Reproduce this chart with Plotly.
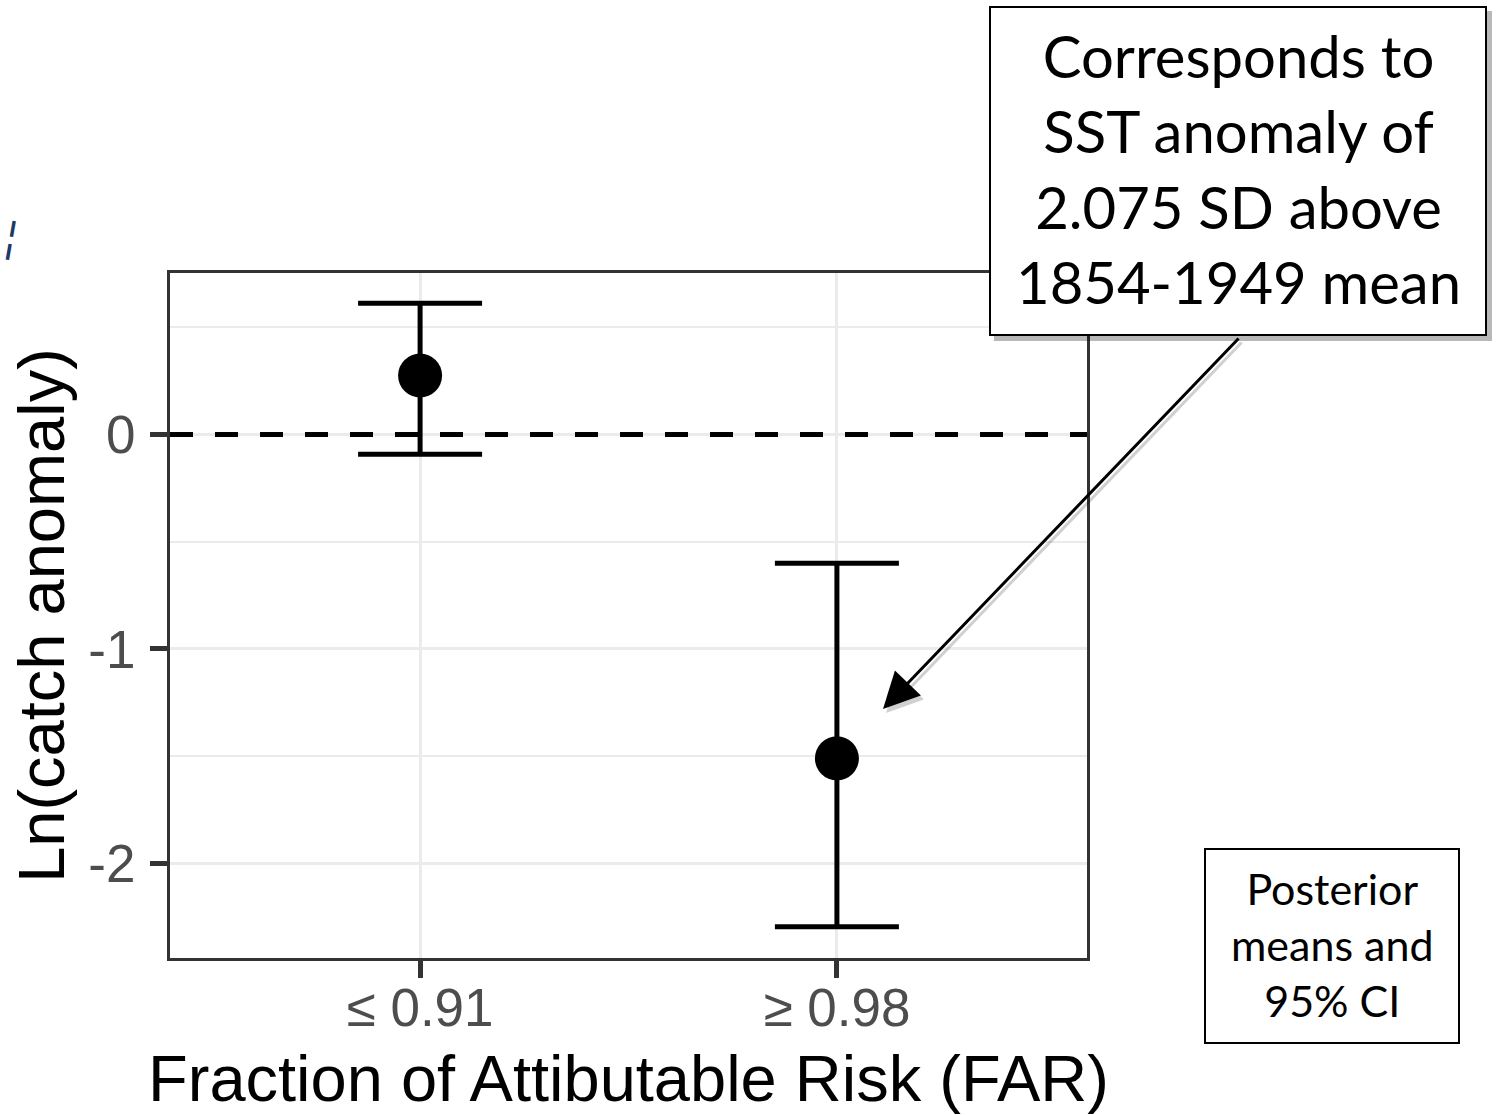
import plotly.graph_objects as go

# ---- data ----
categories = ["\u2264 0.91", "\u2265 0.98"]
means = [0.275, -1.510]
upper = [0.612, -0.600]
lower = [-0.092, -2.295]
ref_level = 0
y_ticks = [-2, -1, 0]
y_minor = [-1.5, -0.5, 0.5]
y_range = [-2.441, 0.753]
x_range = [-0.6, 1.6]

box1_text = "Corresponds to<br>SST anomaly of<br>2.075 SD above<br>1854-1949 mean"
box2_text = "Posterior<br>means and<br>95% CI"
x_title = "Fraction of Attibutable Risk (FAR)"
y_title = "Ln(catch anomaly)"

# ---- layout geometry (pixels) ----
W, H = 1498, 1115
L, R, T, B = 170, 1087, 273, 958
pw, ph = R - L, B - T

def px(x):
    return (x - L) / pw

def py(y):
    return (B - y) / ph

err_plus = [u - m for u, m in zip(upper, means)]
err_minus = [m - l for m, l in zip(means, lower)]

fig = go.Figure()
# dashed reference line (on hidden numeric overlay axis spanning the panel)
fig.add_trace(go.Scatter(
    x=[0, 1], y=[ref_level, ref_level], xaxis="x2", yaxis="y", mode="lines",
    line=dict(color="black", width=5, dash="23px,22px"),
    showlegend=False, hoverinfo="skip",
))
fig.add_trace(go.Scatter(
    x=categories, y=means, mode="markers",
    marker=dict(size=44, color="black"),
    error_y=dict(type="data", symmetric=False, array=err_plus, arrayminus=err_minus,
                 color="black", thickness=5, width=62),
    showlegend=False, hoverinfo="skip",
))

grid = "#EBEBEB"
fig.update_layout(xaxis2=dict(overlaying="x", range=[0, 1], visible=False, showgrid=False, zeroline=False))
fig.update_xaxes(
    selector=dict(type="category"),
)
fig.layout.xaxis.update(
    type="category", range=x_range, showgrid=True, gridcolor=grid, gridwidth=3,
    showline=True, linecolor="#333333", linewidth=3, mirror=True,
    ticks="outside", ticklen=17, tickwidth=4.5, tickcolor="#333333",
    tickfont=dict(family="Liberation Sans, Arial", size=53, color="#4D4D4D"),
    ticklabelstandoff=-16,
    title=dict(text=x_title, font=dict(family="Liberation Sans, Arial", size=65, color="black"), standoff=28),
    zeroline=False,
)
fig.layout.yaxis.update(
    range=y_range, tickvals=y_ticks, ticktext=[str(v) for v in y_ticks],
    showgrid=True, gridcolor=grid, gridwidth=3,
    minor=dict(tickvals=y_minor, showgrid=True, gridcolor=grid, gridwidth=2, ticklen=0),
    showline=True, linecolor="#333333", linewidth=3, mirror=True,
    ticks="outside", ticklen=17, tickwidth=4.5, tickcolor="#333333",
    tickfont=dict(family="Liberation Sans, Arial", size=53, color="#4D4D4D"),
    ticklabelstandoff=4,
    title=dict(text=y_title, font=dict(family="Liberation Sans, Arial", size=65, color="black"), standoff=3),
    zeroline=False,
)

shapes = [
    # box 1 shadow + box
    dict(type="rect", xref="paper", yref="paper", x0=px(994), x1=px(1492), y0=py(341), y1=py(11),
         fillcolor="rgba(0,0,0,0.28)", line=dict(width=0), layer="above"),
    dict(type="rect", xref="paper", yref="paper", x0=px(990), x1=px(1486), y0=py(335), y1=py(7),
         fillcolor="white", line=dict(color="black", width=2), layer="above"),
    # box 2
    dict(type="rect", xref="paper", yref="paper", x0=px(1205), x1=px(1459), y0=py(1043), y1=py(849),
         fillcolor="white", line=dict(color="black", width=2), layer="above"),
]
fig.update_layout(shapes=shapes)

annotations = [
    dict(xref="paper", yref="paper", x=px(1238), y=py(168), text=box1_text, showarrow=False,
         font=dict(family="Lato", size=58, color="black"), align="center",
         xanchor="center", yanchor="middle"),
    dict(xref="paper", yref="paper", x=px(1332), y=py(944), text=box2_text, showarrow=False,
         font=dict(family="Lato", size=43, color="black"), align="center",
         xanchor="center", yanchor="middle"),
    # arrow shadow
    dict(xref="paper", yref="paper", x=px(886), y=py(713), ax=357, ay=-372, text="",
         showarrow=True, arrowhead=2, arrowsize=2.4, arrowwidth=3, arrowcolor="rgba(0,0,0,0.18)"),
    # arrow
    dict(xref="paper", yref="paper", x=px(883), y=py(709), ax=357, ay=-372, text="",
         showarrow=True, arrowhead=2, arrowsize=2.4, arrowwidth=3, arrowcolor="black"),
    # stray mark at left edge
    dict(xref="paper", yref="paper", x=px(11), y=py(236), text="\u00a6", showarrow=False,
         font=dict(family="Liberation Sans", size=42, color="#1F3864"), textangle=10,
         xanchor="center", yanchor="middle"),
]
fig.update_layout(annotations=annotations)

fig.update_layout(
    width=W, height=H,
    margin=dict(l=L, r=W - R, t=T, b=H - B, autoexpand=False),
    paper_bgcolor="white", plot_bgcolor="white",
    showlegend=False,
)

fig.write_html("out.html")
